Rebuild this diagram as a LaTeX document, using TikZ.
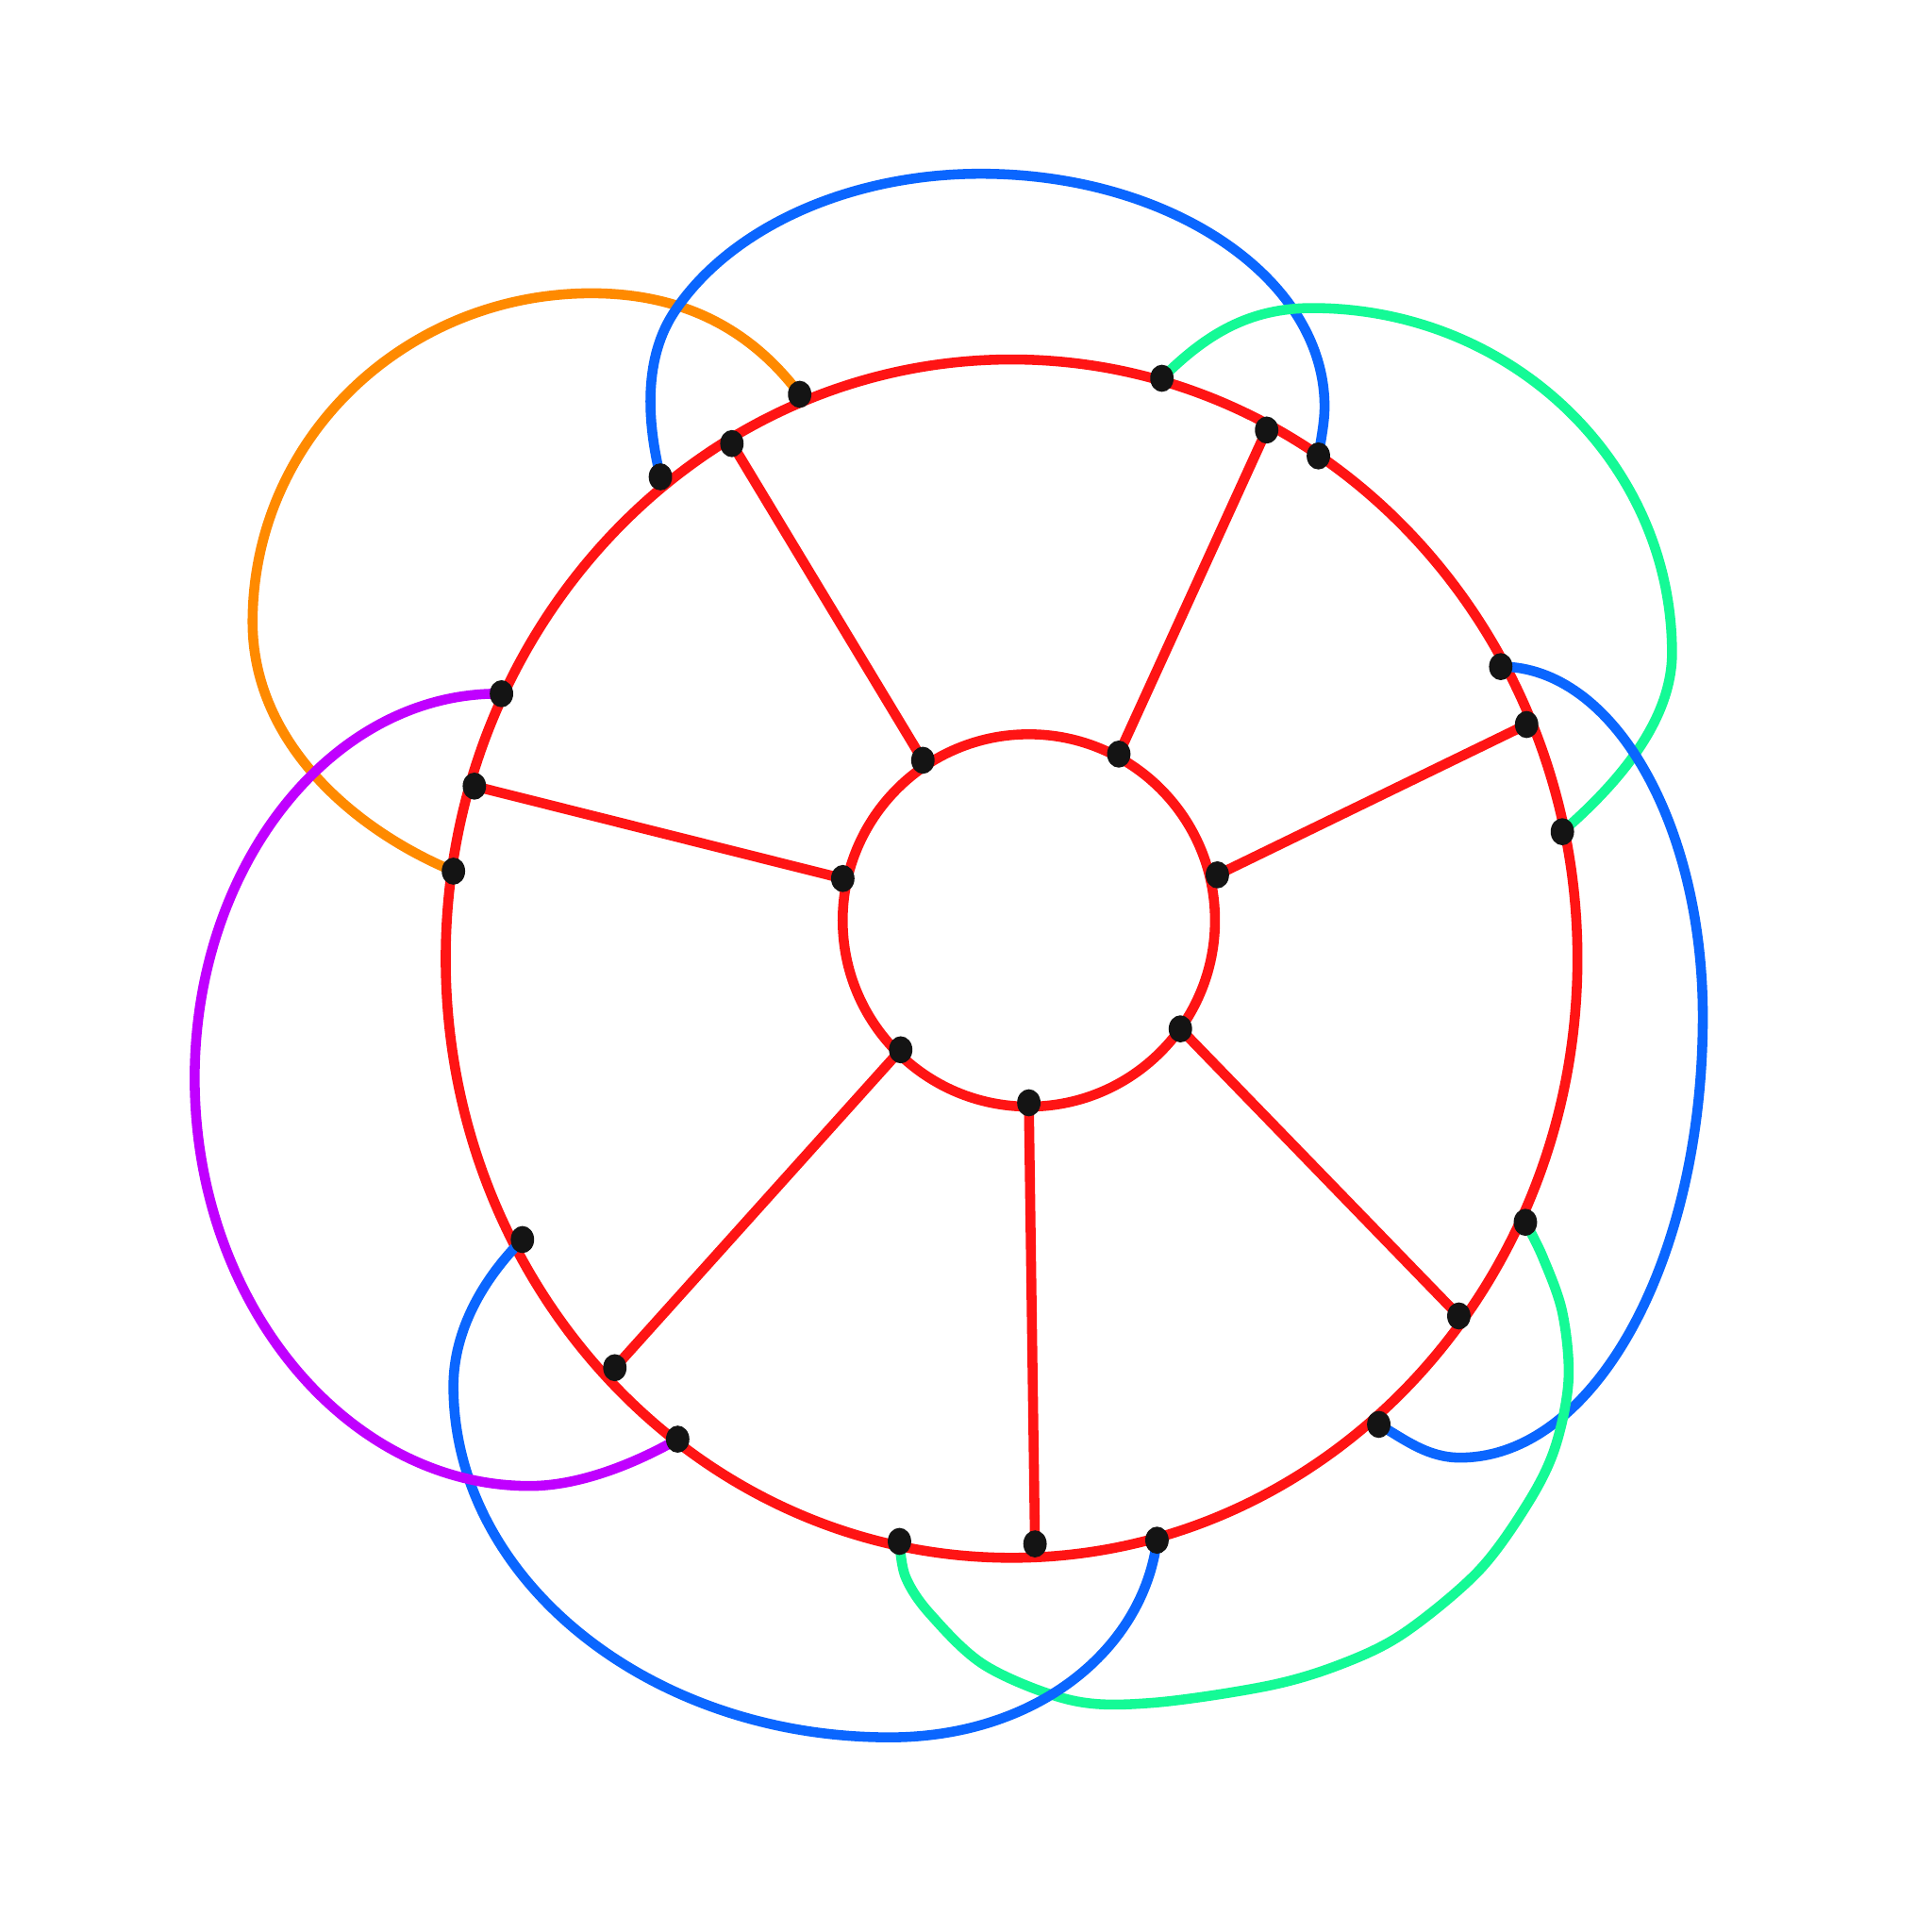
\documentclass[tikz,border=0pt]{standalone}
\usetikzlibrary{shapes.geometric}
\definecolor{cred}{HTML}{FF1414}
\definecolor{cblue}{HTML}{0A66FF}
\definecolor{corange}{HTML}{FF8A00}
\definecolor{cgreen}{HTML}{14FA96}
\definecolor{cpurple}{HTML}{C000FF}
\begin{document}
\begin{tikzpicture}[x=0.01cm,y=-0.01cm,
  edge/.style={line width=2.3pt, line cap=round, line join=round},
  dot/.style={ellipse, fill=black!92, inner sep=0pt, minimum width=0.19cm, minimum height=0.22cm}]
\useasboundingbox (0,0) rectangle (1568,1568);
\fill[white] (0,0) rectangle (1568,1568);
% outer points
\coordinate (o1) at (649,320);
\coordinate (o2) at (594,360);
\coordinate (o3) at (536,387);
\coordinate (o4) at (407,563);
\coordinate (o5) at (385,638);
\coordinate (o6) at (368,707);
\coordinate (o7) at (424,1006);
\coordinate (o8) at (499,1110);
\coordinate (o9) at (550,1168);
\coordinate (o10) at (730,1251);
\coordinate (o11) at (840,1253);
\coordinate (o12) at (939,1250);
\coordinate (o13) at (1119,1156);
\coordinate (o14) at (1184,1068);
\coordinate (o15) at (1238,992);
\coordinate (o16) at (1268,675);
\coordinate (o17) at (1239,588);
\coordinate (o18) at (1218,541);
\coordinate (o19) at (1070,370);
\coordinate (o20) at (1028,349);
\coordinate (o21) at (943,307);
% inner points
\coordinate (i1) at (749,617);
\coordinate (i2) at (908,612);
\coordinate (i3) at (988,710);
\coordinate (i4) at (958,835);
\coordinate (i5) at (835,895);
\coordinate (i6) at (731,852);
\coordinate (i7) at (684,713);
% cycles
\draw[edge,cred] (821,778) ellipse [x radius=4.59cm, y radius=4.86cm];
\draw[edge,cred] (835,747) circle [radius=1.51cm];
% spokes
\draw[edge,cred] (o2) -- (i1);
\draw[edge,cred] (o20) -- (i2);
\draw[edge,cred] (o17) -- (i3);
\draw[edge,cred] (o14) -- (i4);
\draw[edge,cred] (o11) -- (i5);
\draw[edge,cred] (o8) -- (i6);
\draw[edge,cred] (o5) -- (i7);
% coloured connectors
\draw[edge,corange] (o1) .. controls (613,272) and (560,238) .. (480,238)
   .. controls (330,238) and (205,355) .. (205,505)
   .. controls (205,599) and (282,671) .. (o6);
\draw[edge,cblue] (o3) .. controls (525,342) and (522,290) .. (548,252)
   .. controls (593,185) and (689,141) .. (796,141)
   .. controls (950,141) and (1075,226) .. (1075,330)
   .. controls (1075,343) and (1072,357) .. (o19);
\draw[edge,cgreen] (o21) .. controls (979,271) and (1014,250) .. (1065,250)
   .. controls (1226,250) and (1357,375) .. (1357,530)
   .. controls (1357,585) and (1313,636) .. (o16);
\draw[edge,cblue] (o18) .. controls (1309,541) and (1382,668) .. (1382,825)
   .. controls (1382,1023) and (1294,1183) .. (1185,1183)
   .. controls (1159,1183) and (1141,1169) .. (o13);
\draw[edge,cgreen] plot[smooth,tension=0.55] coordinates {(o15) (1252,1020) (1268,1065) (1273,1120) (1262,1175) (1240,1220) (1200,1275) (1140,1325) (1090,1350) (1030,1368) (935,1382) (870,1380) (800,1352) (755,1310) (735,1280) (o10)};
\draw[edge,cblue] (o12) .. controls (928,1338) and (842,1410) .. (722,1410)
   .. controls (527,1410) and (368,1282) .. (368,1125)
   .. controls (368,1080) and (392,1038) .. (o7);
\draw[edge,cpurple] (o4) .. controls (270,561) and (158,702) .. (158,875)
   .. controls (158,1057) and (281,1206) .. (430,1206)
   .. controls (470,1206) and (515,1188) .. (o9);
% vertices
\foreach \n in {1,...,21} \node[dot] (d\n) at (o\n) {};
\foreach \n in {1,...,7} \node[dot] (e\n) at (i\n) {};
\end{tikzpicture}
\end{document}
